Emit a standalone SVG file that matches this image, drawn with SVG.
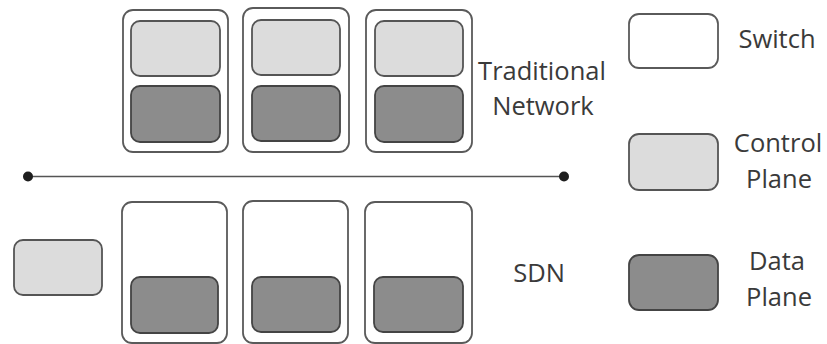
<svg xmlns="http://www.w3.org/2000/svg" width="827" height="344" viewBox="0 0 827 344">
  <style>
    .switch { fill: #ffffff; stroke: #5a5a5a; stroke-width: 1.8; }
    .ctrl { fill: #dcdcdc; stroke: #555555; stroke-width: 1.8; }
    .data { fill: #8c8c8c; stroke: #444444; stroke-width: 1.8; }
    .lbl { font-family: "Open Sans", "Noto Sans", sans-serif; font-size: 25.5px; fill: #3a3a3a; text-anchor: middle; }
    .wire { stroke: #555555; stroke-width: 1.6; fill: none; }
    .end { fill: #1e1e1e; }
  </style>

  <!-- Traditional network: each switch holds its own control and data plane -->
  <g id="trad-switch-1">
    <rect class="switch" x="123" y="10" width="105" height="142" rx="10"/>
    <rect class="ctrl" x="131" y="21" width="89" height="55" rx="9"/>
    <rect class="data" x="131" y="86" width="89" height="56" rx="9"/>
  </g>
  <g id="trad-switch-2">
    <rect class="switch" x="243" y="8" width="106" height="144" rx="10"/>
    <rect class="ctrl" x="252" y="20" width="88" height="55" rx="9"/>
    <rect class="data" x="252" y="86" width="88" height="55" rx="9"/>
  </g>
  <g id="trad-switch-3">
    <rect class="switch" x="366" y="10" width="106" height="142" rx="10"/>
    <rect class="ctrl" x="375" y="21" width="88" height="55" rx="9"/>
    <rect class="data" x="375" y="86" width="88" height="56" rx="9"/>
  </g>
  <g id="trad-label">
    <text class="lbl" x="542" y="80">Traditional</text>
    <text class="lbl" x="543" y="115">Network</text>
  </g>

  <!-- Divider between the two architectures -->
  <g id="connectors">
    <line class="wire" x1="28" y1="176.5" x2="564" y2="176.5"/>
    <circle class="end" cx="28" cy="176.5" r="5"/>
    <circle class="end" cx="564" cy="176.5" r="5"/>
  </g>

  <!-- SDN: control plane separated from the switches -->
  <g id="sdn-controller">
    <rect class="ctrl" x="14" y="240" width="88" height="55" rx="9"/>
  </g>
  <g id="sdn-switch-1">
    <rect class="switch" x="122" y="202" width="105" height="141" rx="10"/>
    <rect class="data" x="131" y="277" width="87" height="56" rx="9"/>
  </g>
  <g id="sdn-switch-2">
    <rect class="switch" x="243" y="201" width="105" height="142" rx="10"/>
    <rect class="data" x="252" y="277" width="88" height="55" rx="9"/>
  </g>
  <g id="sdn-switch-3">
    <rect class="switch" x="365" y="202" width="107" height="141" rx="10"/>
    <rect class="data" x="374" y="277" width="89" height="55" rx="9"/>
  </g>
  <g id="sdn-label">
    <text class="lbl" x="539" y="282">SDN</text>
  </g>

  <!-- Legend -->
  <g id="legend-switch">
    <rect class="switch" x="629" y="14" width="89" height="54" rx="10"/>
    <text class="lbl" x="777" y="48">Switch</text>
  </g>
  <g id="legend-control">
    <rect class="ctrl" x="629" y="134" width="89" height="56" rx="10"/>
    <text class="lbl" x="778" y="152">Control</text>
    <text class="lbl" x="779" y="188">Plane</text>
  </g>
  <g id="legend-data">
    <rect class="data" x="629" y="255" width="89" height="55" rx="10"/>
    <text class="lbl" x="777" y="270">Data</text>
    <text class="lbl" x="779" y="306">Plane</text>
  </g>
</svg>
